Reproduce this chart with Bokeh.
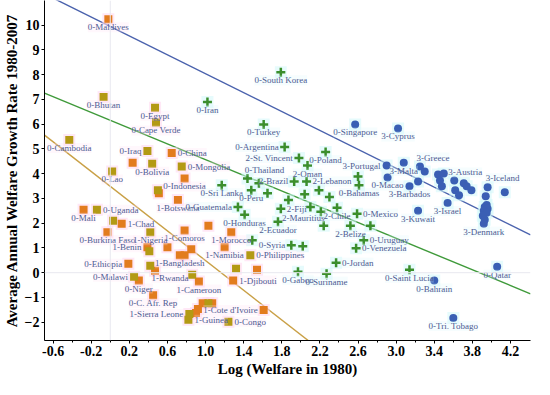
from bokeh.plotting import figure
from bokeh.models import Range1d, FixedTicker, PrintfTickFormatter, Span, ColumnDataSource
from bokeh.embed import file_html
from bokeh.resources import INLINE
from bokeh.core.properties import value

# ---------------- data ----------------
# orange squares
sqo_x = [-0.02, 0.645, 0.235, 0.78, 0.51, 0.71, -0.28, 0.12, -0.03, 0.78, 0.39, 0.60, 0.85,
         1.03, 1.27, 1.20, 0.73, 0.78, 0.19, 0.30, 0.45, 0.47, 0.93, 1.54, 1.29,
         0.90, 0.92, 0.97, 1.07, 1.61]
sqo_y = [10.24, 4.84, 4.44, 3.81, 3.21, 2.94, 2.54, 1.98, 1.63, 1.71, 1.03, 1.03, 0.95,
         1.90, 1.63, 1.03, 0.71, 0.71, 0.36, -0.32, -0.91, 0.08, -0.36, 0.12, -0.32,
         -1.63, -1.47, -1.23, -1.23, -1.51]
sqo_lab = ["0-Maldives", "0-China", "", "0-Indonesia", "", "1-Botswana", "0-Mali", "1-Chad",
           "0-Burkina Faso", "1-Comoros", "1-Benin", "", "", "", "1-Morocco", "1-Namibia",
           "1-Bangladesh", "", "0-Ethiopia", "0-Niger", "0-C. Afr. Rep", "1-Rwanda",
           "1-Cameroon", "", "1-Djibouti", "", "", "", "", "1-Cote d'Ivoire"]

# olive squares
sqg_x = [-0.07, 0.47, 0.48, -0.43, 0.39, 0.44, 0.75, 0.02, 0.50, -0.14, 0.03, 0.42, 0.41,
         0.42, 0.25, 0.86, 1.47, 1.32, 1.24, 0.83, 0.82, 1.03]
sqg_y = [7.10, 6.67, 6.07, 5.36, 4.92, 4.40, 4.29, 4.09, 3.33, 2.54, 2.10, 1.63, 0.87,
         0.28, -0.16, -0.08, 0.71, 0.16, -1.98, -1.67, -1.90, -1.23]
sqg_lab = ["0-Bhutan", "0-Egypt", "0-Cape Verde", "0-Cambodia", "0-Iraq", "0-Bolivia",
           "0-Mongolia", "0-Lao", "", "0-Uganda", "", "1-Nigeria", "", "", "0-Malawi", "",
           "0-Philippines", "", "0-Congo", "1-Sierra Leone", "1-Guinea", ""]

# green crosses
crs_x = [1.79, 1.02, 1.61, 1.83, 2.26, 1.98, 2.07, 1.44, 1.56, 1.93, 2.06, 1.17, 1.48, 1.65,
         2.04, 2.19, 2.30, 2.60, 2.61, 1.87, 1.79, 2.10, 2.21, 2.38, 2.59, 1.34, 1.41, 1.76,
         2.24, 2.52, 2.73, 1.49, 1.90, 2.02, 2.66, 2.58, 2.37, 1.97, 2.27, 3.14]
crs_y = [8.10, 6.90, 5.99, 5.08, 4.88, 4.64, 4.33, 3.81, 3.61, 3.69, 3.69, 3.53, 3.33, 3.21,
         3.17, 3.33, 3.06, 3.89, 3.53, 2.94, 2.58, 2.66, 2.46, 2.62, 2.38, 2.66, 2.34, 2.06,
         1.90, 1.90, 1.90, 1.31, 1.11, 1.07, 1.31, 0.99, 0.40, 0.04, -0.04, 0.12]
crs_lab = ["0-South Korea", "0-Iran", "0-Turkey", "0-Argentina", "0-Poland", "2-St. Vincent",
           "2-Oman", "0-Thailand", "", "2-Brazil", "2-Lebanon", "0-Sri Lanka", "0-Peru", "",
           "", "", "", "", "0-Bahamas", "", "2-Fiji", "2-Mauritius", "", "2-Chile", "0-Mexico",
           "0-Guatemala", "0-Honduras", "2-Ecuador", "", "2-Belize", "", "", "0-Syria", "",
           "0-Uruguay", "0-Venezuela", "0-Jordan", "0-Gabon", "0-Suriname", "0-Saint Lucia"]

# blue circles
cir_x = [2.57, 3.02, 2.90, 3.08, 2.91, 3.14, 3.23, 3.25, 3.30, 3.44, 3.50, 3.46, 3.48, 3.61,
         3.71, 3.74, 3.79, 3.62, 3.66, 3.96, 4.14, 3.94, 3.54, 3.23, 3.95, 3.93, 3.96, 3.92,
         3.95, 3.91, 3.93, 3.92, 3.40, 4.06, 3.60]
cir_y = [5.99, 5.83, 4.33, 4.44, 3.85, 3.49, 3.69, 4.29, 4.09, 3.97, 4.01, 3.73, 3.49, 3.73,
         3.61, 3.49, 3.33, 3.33, 3.13, 3.45, 3.25, 3.09, 2.82, 2.50, 2.74, 2.66, 2.58, 2.50,
         2.42, 2.30, 2.14, 1.98, -0.32, 0.24, -1.83]
cir_lab = ["0-Singapore", "3-Cyprus", "3-Portugal", "3-Malta", "0-Macao", "3-Barbados", "",
           "3-Greece", "", "", "", "", "", "3-Austria", "", "", "", "", "", "3-Iceland", "", "",
           "3-Israel", "3-Kuwait", "", "", "", "", "", "", "", "3-Denmark", "0-Bahrain",
           "0-Qatar", "0-Tri. Tobago"]

# fitted lines: intercept, slope
line_intercept = [9.95, 6.16, 3.49]
line_slope = [-1.91, -1.59, -3.00]

x_ticks = [-0.6, -0.2, 0.2, 0.6, 1.0, 1.4, 1.8, 2.2, 2.6, 3.0, 3.4, 3.8, 4.2]
y_ticks = [-2, -1, 0, 1, 2, 3, 4, 5, 6, 7, 8, 9, 10]
x_title = "Log (Welfare in 1980)"
y_title = "Average Annual Welfare Growth Rate 1980-2007"

# ---------------- label placement (layout only) ----------------
sqo_pos = ["b", "r", "", "b", "", "b", "b", "r", "b", "b", "l", "", "", "", "b", "b", "b", "",
           "l", "b", "b", "rw", "b", "", "r", "", "", "", "", "l"]
sqg_pos = ["b", "b", "b", "b", "l", "b", "r", "b", "", "r", "", "b", "", "", "l", "", "r", "",
           "r", "l", "r", ""]
crs_pos = ["b", "b", "b", "l", "b", "l", "b", "th", "", "l", "r", "b", "b", "", "", "", "", "",
           "b", "", "r", "mu", "", "b", "r", "l", "b", "b", "", "b", "", "", "l", "", "r", "r",
           "r", "b", "b", "b"]
cir_pos = ["b", "b", "l", "b", "b", "b", "", "gr", "", "", "", "", "", "au", "", "", "", "", "",
           "ic", "", "", "b", "b", "", "", "", "", "", "", "", "b", "b", "b", "b"]

POS = {
    "b": ("center", "top", 0, 3),
    "r": ("left", "middle", 6, 0),
    "l": ("right", "middle", -6, 0),
    "th": ("center", "middle", 17, -8),
    "gr": ("center", "middle", 13, -9),
    "au": ("center", "middle", 11, -8),
    "ic": ("center", "middle", 15, -9),
    "rw": ("center", "middle", 15, 7),
    "mu": ("center", "middle", -7, 11),
}

X0, X1 = -0.69, 4.41
Y0, Y1 = -2.74, 11.0

p = figure(width=534, height=379, output_backend="svg", toolbar_location=None,
           x_range=Range1d(X0, X1), y_range=Range1d(Y0, Y1),
           min_border_top=0, min_border_right=4, min_border_left=0, min_border_bottom=0)
p.outline_line_color = None
p.background_fill_color = "white"
p.xgrid.visible = False
p.ygrid.visible = False

# faint zero reference lines
p.add_layout(Span(location=0, dimension="height", line_color="#e8e8ef", line_width=1))
p.add_layout(Span(location=0, dimension="width", line_color="#e8e8ef", line_width=1))

# fitted lines
line_colors = ["#4a62ad", "#3f9a3a", "#c9a046"]
for a, b, c in zip(line_intercept, line_slope, line_colors):
    xs = [X0, X1]
    ys = [a + b * X0, a + b * X1]
    p.line(xs, ys, line_color=c, line_width=1.4)

# halos
p.scatter(sqo_x + sqg_x, sqo_y + sqg_y, marker="square", size=12,
          fill_color="#ffd6ef", line_color=None, fill_alpha=0.55)
p.scatter(crs_x + cir_x, crs_y + cir_y, marker="square", size=12,
          fill_color="#d2f7fa", line_color=None, fill_alpha=0.55)

# markers
p.scatter(sqo_x, sqo_y, marker="square", size=8, fill_color="#e27c1e", line_color=None)
p.scatter(sqg_x, sqg_y, marker="square", size=8, fill_color="#b39a14", line_color=None)
p.scatter(crs_x, crs_y, marker="cross", size=9, line_color="#3b8e2c", line_width=2.5)
p.scatter(cir_x, cir_y, marker="circle", size=8, fill_color="#3a5fb4", line_color=None)

# labels
def add_labels(xs, ys, labs, poss, bg):
    d = dict(x=[], y=[], t=[], al=[], bl=[], dx=[], dy=[])
    for x, y, t, ps in zip(xs, ys, labs, poss):
        if not t:
            continue
        al, bl, dx, dy = POS[ps]
        d["x"].append(x); d["y"].append(y); d["t"].append(t)
        d["al"].append(al); d["bl"].append(bl); d["dx"].append(dx); d["dy"].append(dy)
    src = ColumnDataSource(d)
    p.text(x="x", y="y", text="t", source=src, text_align="al", text_baseline="bl",
           x_offset="dx", y_offset="dy", text_font=value("Liberation Serif"),
           text_font_size="9px", text_color="#4d5b92",
           background_fill_color=bg, background_fill_alpha=0.25)

add_labels(sqo_x, sqo_y, sqo_lab, sqo_pos, "#ffe0f2")
add_labels(sqg_x, sqg_y, sqg_lab, sqg_pos, "#ffe0f2")
add_labels(crs_x, crs_y, crs_lab, crs_pos, "#dcf8fb")
add_labels(cir_x, cir_y, cir_lab, cir_pos, "#dcf8fb")

# axes
minor = [round(-0.6 + 0.2 * i, 1) for i in range(25)]
p.xaxis.ticker = FixedTicker(ticks=x_ticks, minor_ticks=minor)
p.xaxis.formatter = PrintfTickFormatter(format="%.1f")
p.yaxis.ticker = FixedTicker(ticks=y_ticks)
for ax in (p.xaxis, p.yaxis):
    ax.axis_line_color = "black"
    ax.axis_line_width = 1
    ax.major_tick_line_color = "black"
    ax.minor_tick_line_color = "black"
    ax.major_tick_out = 3
    ax.major_tick_in = 0
    ax.minor_tick_out = 2
    ax.minor_tick_in = 0
    ax.major_label_text_font = "Liberation Serif"
    ax.major_label_text_font_style = "bold"
    ax.major_label_text_font_size = "14px"
    ax.major_label_text_color = "black"
    ax.major_label_standoff = 2
    ax.axis_label_text_font = "Liberation Serif"
    ax.axis_label_text_font_style = "bold"
    ax.axis_label_text_font_size = "15px"
    ax.axis_label_text_color = "black"
    ax.axis_label_standoff = 2
p.xaxis.axis_label = x_title
p.yaxis.axis_label = y_title

open("out.html", "w").write(file_html(p, INLINE))
